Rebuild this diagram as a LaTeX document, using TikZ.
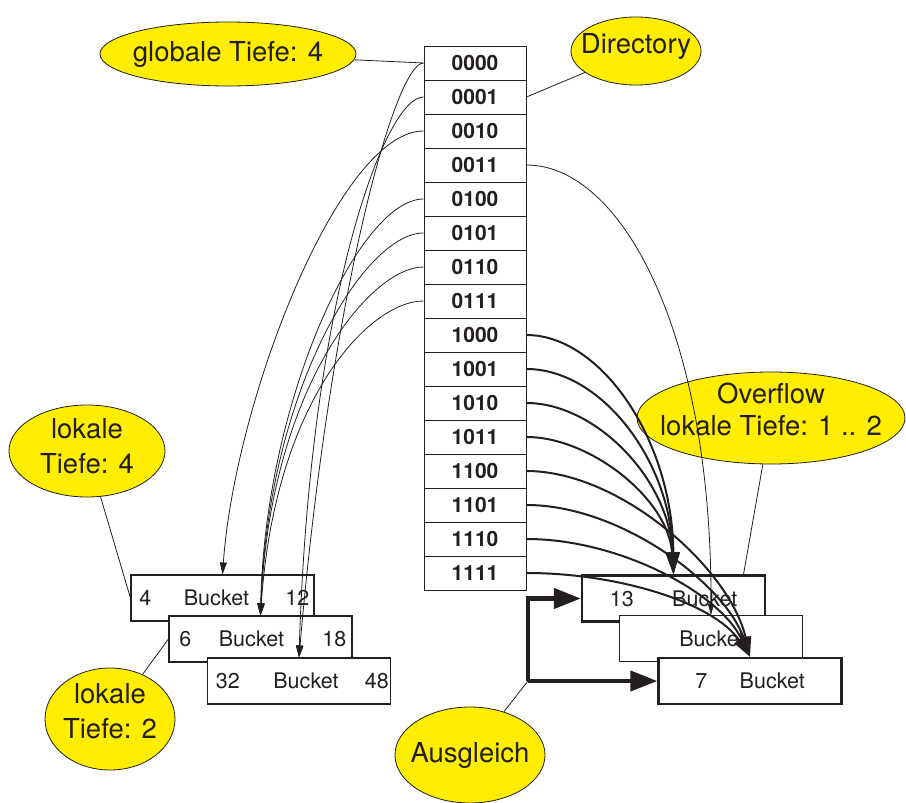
\documentclass[tikz,border=0pt]{standalone}
\usepackage{fontspec}
\setmainfont{TeX Gyre Heros}
\usetikzlibrary{arrows.meta,shapes.geometric,calc}
\definecolor{ink}{RGB}{35,31,32}
\definecolor{bub}{RGB}{255,238,0}
\begin{document}
\begin{tikzpicture}[x=1pt,y=-1pt,
  dircell/.style={draw=ink,line width=1pt,minimum width=102pt,minimum height=34pt,inner sep=0pt,text height=15pt,text depth=0pt,font=\fontsize{21}{21}\selectfont\bfseries,text=ink},
  bubble/.style={ellipse,draw=ink,line width=0.8pt,fill=bub,inner sep=0pt},
  btext/.style={anchor=base,font=\fontsize{27.5}{30}\selectfont,text=ink,inner sep=0pt},
  bucketbox/.style={draw=ink,fill=white,minimum width=183pt,minimum height=46pt,inner sep=0pt},
  thinbox/.style={bucketbox,line width=1.1pt},
  thickbox/.style={bucketbox,line width=2.4pt},
  bt/.style={font=\fontsize{21.5}{22}\selectfont,text=ink,text height=15.5pt,text depth=0pt,inner sep=0pt},
  thinline/.style={draw=ink,line width=0.8pt},
  thinarrow/.style={thinline,-{Triangle[length=12pt,width=7pt]}},
  thickarrowA/.style={draw=ink,line width=2pt,-{Triangle[length=22pt,width=13pt]}},
  thickarrowB/.style={draw=ink,line width=2pt,-{Triangle[length=20pt,width=11pt]}},
  ausarrow/.style={draw=ink,line width=4.5pt,-{Triangle[length=27pt,width=20pt]}},
]
\useasboundingbox (0,0) rectangle (906,803);

% directory
\foreach \b [count=\i from 0] in {0000,0001,0010,0011,0100,0101,0110,0111,1000,1001,1010,1011,1100,1101,1110,1111}
  \node[dircell] (d\i) at (475,{63+34*\i}) {\b};

% bubbles
\node[bubble,minimum width=256pt,minimum height=64pt] (glob) at (228,54) {};
\node[btext] at (228,61) {globale Tiefe: 4};
\node[bubble,minimum width=130pt,minimum height=68pt] (dirb) at (636,51) {};
\node[btext] at (636,53) {Directory};
\node[bubble,minimum width=156pt,minimum height=92pt] (lok4) at (87,451) {};
\node[btext] at (87,438) {lokale};
\node[btext] at (87,473) {Tiefe: 4};
\node[bubble,minimum width=268pt,minimum height=92pt] (ovf) at (771,418) {};
\node[btext] at (771,403) {Overflow};
\node[btext] at (771,435) {lokale Tiefe: 1 .. 2};
\node[bubble,minimum width=130pt,minimum height=102pt] (lok2) at (110,719) {};
\node[btext] at (110,703) {lokale};
\node[btext] at (110,738) {Tiefe: 2};
\node[bubble,minimum width=150pt,minimum height=96pt] (aus) at (470,755) {};
\node[btext] at (470,762) {Ausgleich};

% left buckets
\node[thinbox] (A) at (222.5,598) {};
\node[bt] at ([xshift=15pt]A.west) {4};
\node[bt] at ([xshift=86pt]A.west) {Bucket};
\node[bt] at ([xshift=167pt]A.west) {12};
\node[thinbox] (B) at (260.5,639) {};
\node[bt] at ([xshift=17pt]B.west) {6};
\node[bt] at ([xshift=83pt]B.west) {Bucket};
\node[bt] at ([xshift=166pt]B.west) {18};
\node[thinbox] (C) at (299,681) {};
\node[bt] at ([xshift=21pt]C.west) {32};
\node[bt] at ([xshift=99pt]C.west) {Bucket};
\node[bt] at ([xshift=170pt]C.west) {48};

% right buckets
\node[thickbox] (R13) at (673.5,598.5) {};
\node[bt] at ([xshift=41pt]R13.west) {13};
\node[bt] at ([xshift=124pt]R13.west) {Bucket};
\node[thinbox] (RM) at (711,638.5) {};
\node[bt] at ([xshift=93pt]RM.west) {Bucket};
\node[thickbox] (R7) at (750,681) {};
\node[bt] at ([xshift=44pt]R7.west) {7};
\node[bt] at ([xshift=115pt]R7.west) {Bucket};

% label connectors
\draw[thinline] (glob) -- (d0.west);
\draw[thinline] (dirb) -- (d1.east);
\draw[thinline] (lok4) -- (A.west);
\draw[thinline] (lok2) -- (B.west);
\draw[thinline] (ovf) -- ([xshift=70pt]R13.north);
\coordinate (ausc) at (528,681);
\draw[thinline] (aus) -- (ausc);

% Ausgleich arrows
\draw[ausarrow] (ausc) |- (R13.west);
\draw[ausarrow] (ausc) -- (R7.west);

% left pointers
\draw[thinarrow] (d0.west) .. controls +(-29,0) and +(31,-358) .. (C.north);
\draw[thinarrow] (d1.west) .. controls +(-39,0) and +(11,-358) .. (C.north);
\draw[thinarrow] (d2.west) .. controls +(-84,0) and +(12.5,-175) .. (A.north);
\draw[thinarrow] (d4.west) .. controls +(-64,0) and +(4.5,-216) .. (B.north);
\draw[thinarrow] (d5.west) .. controls +(-59,0) and +(7.5,-226) .. (B.north);
\draw[thinarrow] (d6.west) .. controls +(-54,0) and +(9.5,-226) .. (B.north);
\draw[thinarrow] (d7.west) .. controls +(-54,0) and +(14.5,-216) .. (B.north);

% right pointers
\draw[thinline,-{Triangle[length=11pt,width=6pt]}] (d3.east) .. controls +(94,0) and +(1,-285) .. (RM.north);
\draw[thickarrowA] (d8.east) .. controls +(74,0) and +(-1,-135) .. (R13.north);
\draw[thickarrowA] (d9.east) .. controls +(74,0) and +(-3,-115) .. (R13.north);
\draw[thickarrowA] (d10.east) .. controls +(69,0) and +(-4,-95) .. (R13.north);
\draw[thickarrowA] (d11.east) .. controls +(64,0) and +(-5,-75) .. (R13.north);
\draw[thickarrowB] (d12.east) .. controls +(94,0) and +(-20,-88) .. (R7.north);
\draw[thickarrowB] (d13.east) .. controls +(94,0) and +(-25,-73) .. (R7.north);
\draw[thickarrowB] (d14.east) .. controls +(94,0) and +(-30,-63) .. (R7.north);
\draw[thickarrowB] (d15.east) .. controls +(94,0) and +(-35,-53) .. (R7.north);
\end{tikzpicture}
\end{document}
